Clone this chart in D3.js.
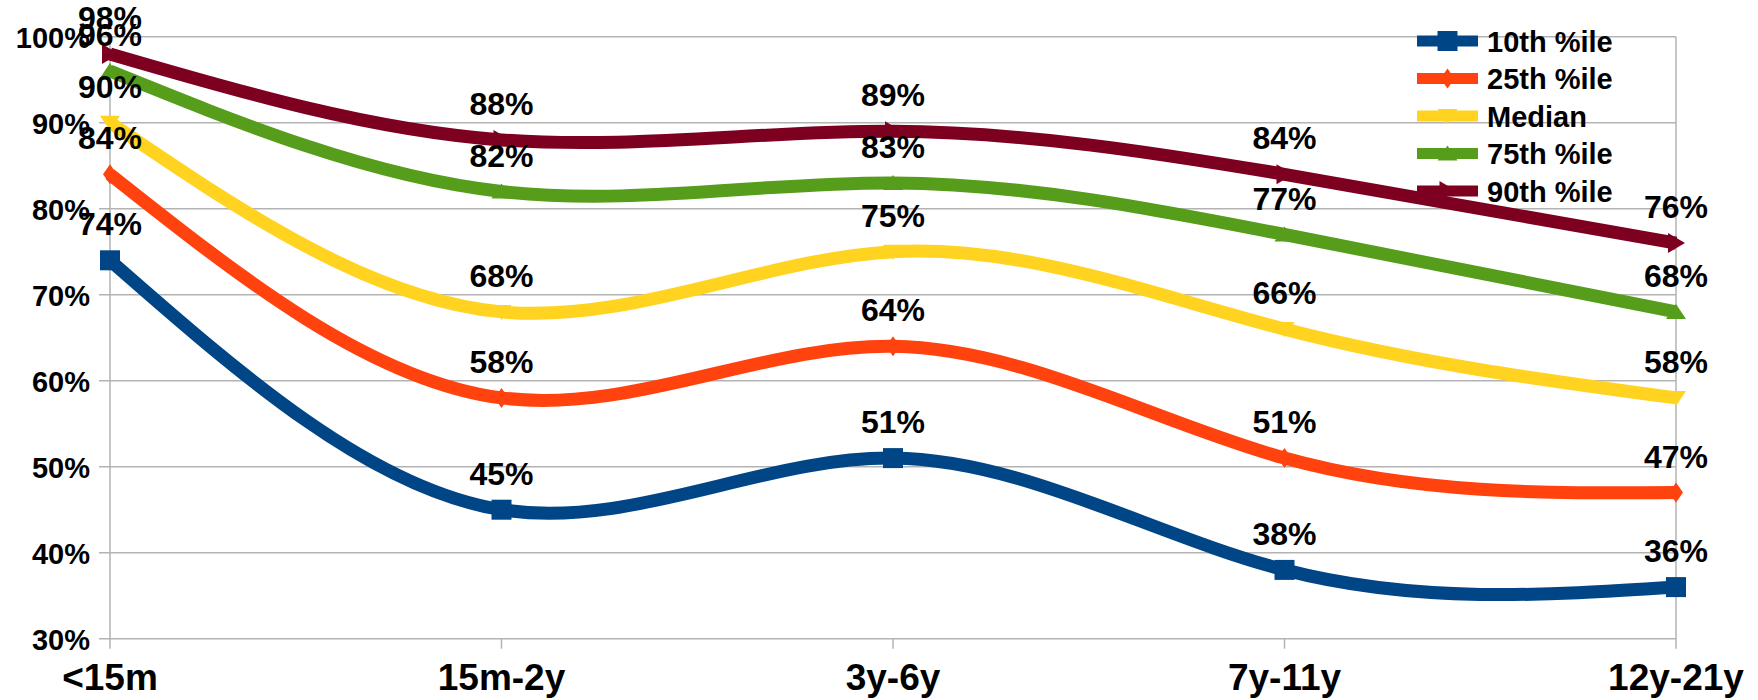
<!DOCTYPE html>
<html>
<head>
<meta charset="utf-8">
<script src="https://cdn.jsdelivr.net/npm/d3@7"></script>
<style>
  html, body { margin: 0; padding: 0; background: #fff; }
  svg { display: block; font-family: "Liberation Sans", Arial, sans-serif; font-weight: bold; }
</style>
</head>
<body>
<div id="chart"></div>
<script>
// Percentile curves by age band

const categories = ['<15m', '15m-2y', '3y-6y', '7y-11y', '12y-21y'];
const seriesNames = ['10th %ile', '25th %ile', 'Median', '75th %ile', '90th %ile'];
const p10 = [74, 45, 51, 38, 36];
const p25 = [84, 58, 64, 51, 47];
const median = [90, 68, 75, 66, 58];
const p75 = [96, 82, 83, 77, 68];
const p90 = [98, 88, 89, 84, 76];
const yTicks = [30, 40, 50, 60, 70, 80, 90, 100];

const colors = ['#004586', '#ff420e', '#ffd320', '#579d1c', '#7e0021'];
const markers = ['square', 'diamond', 'down', 'up', 'right'];

const series = [p10, p25, median, p75, p90].map((values, i) => ({
    name: seriesNames[i],
    values: values,
    color: colors[i],
    marker: markers[i]
}));

const width = 1758, height = 700;
const margin = { top: 36.7, right: 82, bottom: 61.3, left: 110 };

const svg = d3.select('#chart').append('svg')
    .attr('width', width)
    .attr('height', height);

const x = d3.scalePoint()
    .domain(categories)
    .range([margin.left, width - margin.right]);

const y = d3.scaleLinear()
    .domain([30, 100])
    .range([height - margin.bottom, margin.top]);

// marker path builder
function markerPath(type) {
    switch (type) {
        case 'square': return 'M-10,-10H10V10H-10Z';
        case 'diamond': return 'M0,-10L7,0L0,10L-7,0Z';
        case 'down': return 'M-10,-7L10,-7L0,8Z';
        case 'up': return 'M-10,7L10,7L0,-8Z';
        case 'right': return 'M-8,-10L-8,10L9,0Z';
    }
}

// gridlines
const grid = svg.append('g').attr('class', 'grid');
grid.selectAll('line')
    .data(yTicks)
    .enter()
    .append('line')
    .attr('x1', margin.left - 11)
    .attr('x2', width - margin.right)
    .attr('y1', d => y(d))
    .attr('y2', d => y(d))
    .attr('stroke', '#b3b3b3')
    .attr('stroke-width', 1.5);

// left axis line and right border
svg.append('line')
    .attr('x1', margin.left).attr('x2', margin.left)
    .attr('y1', y(100)).attr('y2', y(30) + 10)
    .attr('stroke', '#b3b3b3').attr('stroke-width', 1.5);
svg.append('line')
    .attr('x1', width - margin.right).attr('x2', width - margin.right)
    .attr('y1', y(100)).attr('y2', y(30) + 10)
    .attr('stroke', '#b3b3b3').attr('stroke-width', 1.5);

// x tick marks
svg.append('g').selectAll('line')
    .data(categories.slice(1, -1))
    .enter()
    .append('line')
    .attr('x1', d => x(d)).attr('x2', d => x(d))
    .attr('y1', y(30)).attr('y2', y(30) + 10)
    .attr('stroke', '#b3b3b3').attr('stroke-width', 1.5);

// y labels
svg.append('g').selectAll('text')
    .data(yTicks)
    .enter()
    .append('text')
    .attr('x', 90)
    .attr('y', d => y(d) + 11)
    .attr('text-anchor', 'end')
    .style('font-size', '29px')
    .text(d => d + '%');

// x labels
svg.append('g').selectAll('text')
    .data(categories)
    .enter()
    .append('text')
    .attr('x', d => x(d))
    .attr('y', 690)
    .attr('text-anchor', 'middle')
    .style('font-size', '37px')
    .text(d => d);

const line = d3.line()
    .x((d, i) => x(categories[i]))
    .y(d => y(d))
    .curve(d3.curveNatural);

// lines
series.forEach(s => {
    svg.append('path')
        .attr('d', line(s.values))
        .attr('fill', 'none')
        .attr('stroke', s.color)
        .attr('stroke-width', 13);
});

// markers
series.forEach(s => {
    svg.append('g').selectAll('path')
        .data(s.values)
        .enter()
        .append('path')
        .attr('d', markerPath(s.marker))
        .attr('transform', (d, i) => `translate(${x(categories[i])},${y(d)})`)
        .attr('fill', s.color);
});

// data labels
series.forEach(s => {
    svg.append('g').selectAll('text')
        .data(s.values)
        .enter()
        .append('text')
        .attr('x', (d, i) => x(categories[i]))
        .attr('y', d => y(d) - 25)
        .attr('text-anchor', 'middle')
        .style('font-size', '32px')
        .text(d => d + '%');
});

// legend
const legend = svg.append('g')
    .attr('transform', 'translate(1417, 41)');

const legendItems = legend.selectAll('.legend-item')
    .data(series)
    .enter()
    .append('g')
    .attr('class', 'legend-item')
    .attr('transform', (d, i) => `translate(0, ${i * 37.5})`);

legendItems.append('line')
    .attr('x1', 0).attr('x2', 61)
    .attr('stroke', d => d.color)
    .attr('stroke-width', 11);

legendItems.append('path')
    .attr('d', d => markerPath(d.marker))
    .attr('transform', 'translate(30.5, 0)')
    .attr('fill', d => d.color);

legendItems.append('text')
    .attr('x', 70)
    .attr('y', 10.5)
    .style('font-size', '29px')
    .text(d => d.name);
</script>
</body>
</html>
